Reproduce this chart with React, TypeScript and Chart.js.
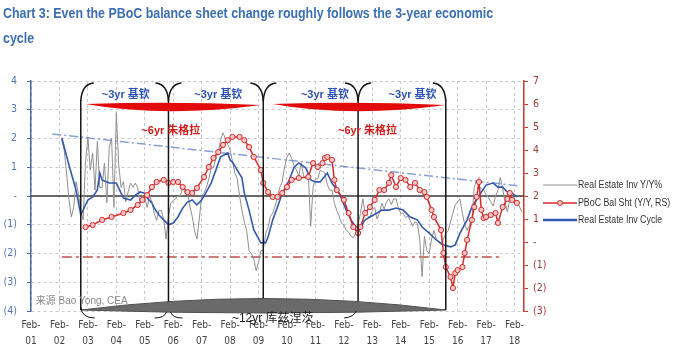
import React, { useEffect, useRef } from 'react';
import { Chart, registerables } from 'chart.js';

Chart.register(...registerables);

// ---------------- data ----------------
const titleLine1 = 'Chart 3: Even the PBoC balance sheet change roughly follows the 3-year economic';
const titleLine2 = 'cycle';

const xTickLabels = ['Feb-01', 'Feb-02', 'Feb-03', 'Feb-04', 'Feb-05', 'Feb-06', 'Feb-07', 'Feb-08', 'Feb-09',
  'Feb-10', 'Feb-11', 'Feb-12', 'Feb-13', 'Feb-14', 'Feb-15', 'Feb-16', 'Feb-17', 'Feb-18'];
const xStart = '2001-02';
const xEnd = '2018-06';

const leftTicks = [4, 3, 2, 1, 0, -1, -2, -3, -4];
const rightTicks = [7, 6, 5, 4, 3, 2, 1, 0, -1, -2, -3];

const seriesNames = ['Real Estate Inv Y/Y%', 'PBoC Bal Sht (Y/Y, RS)', 'Real Estate Inv Cycle'];

// Real Estate Inv Y/Y% (monthly, left axis) starting Mar 2002
const grayStart = '2002-03';
const grayValues = [
  1.95, 1.6, 0.8, -0.1, -0.73, -0.4, 0.5, 0.1, -0.5, -0.83,
  1.2, 2.05, 0.9, 1.5, 0.2, 1.9, 0.3, 0.3, 1.15, -0.24, 1.7, 2.0,
  -0.4, 2.9, 1.1, 0.3, 0.5, -0.2, 0.15, 0.45, 0.3, 0.45, 0.3, -0.25,
  0.0, -0.05, -0.4, 0.0, -0.2, -0.6, -0.85, -0.5, -0.5, -0.85, -1.5, -0.7,
  -0.25, -0.15, -0.1, 0.0, 0.0, 0.3, 0.1, 0.1, -0.35, -0.7, -1.2, -1.5,
  -0.8, 0.0, 0.1, 0.3, 0.6, 0.95, 1.0, 1.3, 1.5, 1.95, 2.2, 2.0,
  1.8, 1.6, 1.2, 0.8, 0.6, 0.0, -0.5, -0.9, -1.2, -1.9, -2.0, -2.2,
  -2.6, -2.3, -1.9, -1.9, -1.3, -1.1, -0.7, -0.6, -0.35, 0.0, 0.3, 0.5,
  1.0, 1.35, 1.5, 1.3, 1.05, 0.9, 0.7, 1.15, 0.7, 0.6, 0.75, -1.05,
  0.3, 0.6, 0.6, 0.9, 0.85, 0.8, 0.4, 0.2, 0.2, -0.25, -0.5, -0.7,
  -0.95, -1.0, -1.2, -1.25, -1.4, -1.45, -1.3, -1.0, -0.6, -0.1, -0.6, -0.7,
  -0.75, -0.5, -0.4, -0.8, -0.6, -0.25, -0.45, -0.2, -0.1, -0.3, -0.1, -0.1,
  -0.4, -0.6, -0.6, -0.75, -0.7, -0.85, -1.05, -0.9, -0.95, -1.5, -2.8, -1.4,
  -1.9, -2.0, -1.5, -1.2, -1.5, -1.6, -1.7, -1.5, -1.3, -1.2, -0.9, -0.6,
  -0.3, -0.2, -0.1, -0.6, -1.0, -1.2, -1.0, -0.8, 0.3, 0.55, 0.35, 0.25,
  0.2, 0.05, -0.05, -0.2, -0.35, 0.0, 0.2, 0.65, 0.25, -0.2, -0.55, -0.15,
  0.0, -0.1, -0.2, -0.35, -0.55,
];

// PBoC balance sheet Y/Y (right axis)
const redDates = [
  '2003-01', '2003-04', '2003-08', '2003-12', '2004-05', '2004-08', '2004-11', '2005-01', '2005-03', '2005-05',
  '2005-07', '2005-10', '2005-12', '2006-02', '2006-04', '2006-06', '2006-08', '2006-10', '2006-12', '2007-03',
  '2007-05', '2007-07', '2007-09', '2007-11', '2008-01', '2008-03', '2008-06', '2008-08', '2008-10', '2008-12',
  '2009-03', '2009-04', '2009-06', '2009-08', '2009-10', '2009-12', '2010-02', '2010-04', '2010-07', '2010-11',
  '2011-01', '2011-03', '2011-05', '2011-06', '2011-07', '2011-09', '2011-10', '2011-11', '2012-02', '2012-04',
  '2012-06', '2012-08', '2012-09', '2012-11', '2013-01', '2013-03', '2013-05', '2013-07', '2013-09', '2013-10',
  '2013-12', '2014-02', '2014-04', '2014-06', '2014-08', '2014-10', '2014-12', '2015-01', '2015-03', '2015-04',
  '2015-07', '2015-08', '2015-09', '2015-11', '2015-12', '2016-01', '2016-02', '2016-04', '2016-05', '2016-06',
  '2016-08', '2016-09', '2016-10', '2016-11', '2016-12', '2017-01', '2017-02', '2017-04', '2017-06', '2017-07',
  '2017-09', '2017-11', '2017-12', '2018-01', '2018-03',
];
const redValues = [
  0.65, 0.74, 0.96, 1.09, 1.26, 1.39, 1.61, 1.83, 2.04, 2.39,
  2.61, 2.7, 2.57, 2.61, 2.61, 2.39, 2.17, 2.13, 2.35, 2.83,
  3.26, 3.65, 3.91, 4.22, 4.43, 4.57, 4.57, 4.43, 4.13, 3.7,
  3.13, 2.57, 2.17, 1.96, 1.96, 2.13, 2.39, 2.7, 2.78, 2.83,
  3.43, 3.26, 3.43, 3.65, 3.7, 3.57, 2.7, 2.26, 1.83, 1.26,
  0.65, 0.39, 0.65, 1.26, 1.52, 1.83, 2.26, 2.26, 2.57, 2.91,
  2.39, 2.78, 2.7, 2.39, 2.57, 2.26, 2.17, 1.96, 1.39, 1.09,
  0.52, -0.48, -1.09, -1.52, -2.0, -1.35, -1.22, -1.09, -0.48, 0.09,
  0.96, 1.52, 1.96, 2.61, 1.4, 1.04, 1.09, 1.17, 1.26, 0.83,
  1.52, 1.87, 2.13, 1.83, 1.7,
];

// Real Estate Inv Cycle (left axis)
const blueDates = [
  '2002-03', '2002-06', '2002-09', '2002-11', '2003-02', '2003-04', '2003-06', '2003-07', '2003-08', '2003-11',
  '2004-01', '2004-02', '2004-04', '2004-05', '2004-08', '2004-10', '2004-12', '2005-02', '2005-03', '2005-05',
  '2005-06', '2005-08', '2005-10', '2005-12', '2006-02', '2006-04', '2006-06', '2006-08', '2006-10', '2006-12',
  '2007-02', '2007-04', '2007-06', '2007-08', '2007-10', '2008-01', '2008-02', '2008-03', '2008-05', '2008-07',
  '2008-08', '2008-10', '2008-12', '2009-03', '2009-05', '2009-06', '2009-08', '2009-10', '2009-12', '2010-03',
  '2010-05', '2010-07', '2010-10', '2010-12', '2011-02', '2011-04', '2011-07', '2011-09', '2011-12', '2012-03',
  '2012-05', '2012-07', '2012-09', '2012-11', '2013-01', '2013-04', '2013-06', '2013-09', '2013-12', '2014-03',
  '2014-06', '2014-09', '2014-11', '2015-02', '2015-05', '2015-08', '2015-11', '2016-01', '2016-03', '2016-06',
  '2016-08', '2016-10', '2016-12', '2017-02', '2017-05', '2017-07', '2017-09', '2017-11', '2018-01', '2018-03',
];
const blueValues = [
  2.02, 1.08, 0.21, -0.66, -0.14, -0.03, 0.21, 0.8, 0.56, 0.45,
  0.45, 0.45, 0.1, -0.07, -0.14, 0.03, 0.14, 0.1, -0.07, -0.24,
  -0.42, -0.66, -0.83, -1.0, -0.94, -0.73, -0.42, -0.21, -0.14, -0.31,
  -0.14, 0.14, 0.45, 0.9, 1.36, 1.5, 1.25, 1.18, 0.9, 0.63,
  0.1, -0.49, -1.18, -1.63, -1.63, -1.43, -0.83, -0.38, 0.1, 0.56,
  1.0, 1.15, 0.97, 0.56, 0.49, 0.49, 0.8, 0.45, 0.1, -0.49,
  -0.83, -1.08, -1.08, -0.83, -0.73, -0.59, -0.49, -0.49, -0.42, -0.49,
  -0.73, -0.83, -1.08, -1.29, -1.53, -1.7, -1.77, -1.7, -1.29, -0.83,
  -0.38, -0.14, 0.14, 0.38, 0.45, 0.31, 0.31, 0.14, 0.1, -0.03,
];

// dash-dot guide lines
const trendDates = ['2001-11', '2018-04'];
const trendValues = [2.16, 0.35];
const floorDates = ['2002-03', '2017-09'];
const floorValues = [-0.65, -0.65];

// annotation anchors
const bracketEdges = ['2002-11', '2005-12', '2009-04', '2012-08', '2015-09'];
const kitchinCenters = ['2004-06', '2007-09', '2011-06', '2014-07'];
const kitchinLabel = '~3yr 基钦';
const juglarSpans = [['2003-01', '2009-03'], ['2009-08', '2015-09']];
const juglarCenters = ['2006-01', '2012-12'];
const juglarLabel = '~6yr 朱格拉';
const kuznetsSpan = ['2002-11', '2015-09'];
const kuznetsCenter = '2009-08';
const kuznetsLabel = '~12yr 库兹涅茨';
const sourceAnchor = '2001-04';
const sourceLabel = '来源 Bao Yong, CEA';

// ---------------- helpers ----------------
const toYear = (d: string) => {
  const [y, m] = d.split('-').map(Number);
  return y + (m - 1) / 12;
};
const tickYear = (label: string) => 2000 + Number(label.split('-')[1]) + 1 / 12;
const fmt = (v: number) => (v > 0 ? String(v) : v === 0 ? '-' : `(${-v})`);
const pts = (dates: string[], vals: number[]) => dates.map((d, i) => ({ x: toYear(d), y: vals[i] }));
const grayPts = () => {
  const s = toYear(grayStart);
  return grayValues.map((v, i) => ({ x: s + i / 12, y: v }));
};

const NARROW = '"Liberation Sans Narrow", "Arial Narrow", "DejaVu Sans Condensed", "Liberation Sans", sans-serif';
const SANS = '"Liberation Sans", Arial, sans-serif';
const CJK = '"Liberation Sans", "Noto Sans CJK SC", sans-serif';

const GRAY = '#8f8f8f';
const RED = '#d42a2a';
const BLUE = '#3558b0';

const decorPlugin = {
  id: 'decor',
  beforeDatasetsDraw(chart: any) {
    const { ctx, chartArea, scales } = chart;
    const y0 = scales.y.getPixelForValue(0);
    ctx.save();
    ctx.strokeStyle = '#3a3a3a';
    ctx.lineWidth = 1.6;
    ctx.beginPath();
    ctx.moveTo(chartArea.left, y0);
    ctx.lineTo(chartArea.right, y0);
    ctx.stroke();
    ctx.restore();
  },
  afterDatasetsDraw(chart: any) {
    const { ctx, chartArea, scales } = chart;
    const xs = scales.x;
    const top = chartArea.top;
    const bottom = chartArea.bottom;
    const X = (d: string) => xs.getPixelForValue(toYear(d));

    // gray lens (Kuznets)
    const kx0 = X(kuznetsSpan[0]);
    const kx1 = X(kuznetsSpan[1]);
    const kmid = (kx0 + kx1) / 2;
    const lensTop = (x: number) => {
      const t = (x - kx0) / (kx1 - kx0);
      return bottom - 1 - 2 * t * (1 - t) * 23;
    };
    ctx.save();
    ctx.fillStyle = '#6a6a6a';
    ctx.strokeStyle = '#505050';
    ctx.lineWidth = 1;
    ctx.beginPath();
    ctx.moveTo(kx0, bottom - 1);
    ctx.quadraticCurveTo(kmid, bottom - 24, kx1, bottom - 1);
    ctx.quadraticCurveTo(kmid, bottom + 5, kx0, bottom - 1);
    ctx.closePath();
    ctx.fill();
    ctx.stroke();
    ctx.restore();

    // brackets
    ctx.save();
    ctx.strokeStyle = '#151515';
    ctx.lineWidth = 1.5;
    bracketEdges.forEach((d, i) => {
      const x = X(d);
      ctx.beginPath();
      ctx.moveTo(x, top + 19);
      ctx.lineTo(x, lensTop(x));
      ctx.stroke();
      if (i < bracketEdges.length - 1) {
        ctx.beginPath();
        ctx.moveTo(x, top + 20);
        ctx.quadraticCurveTo(x + 1, top + 3, x + 13, top + 2);
        ctx.stroke();
      }
      if (i > 0) {
        ctx.beginPath();
        ctx.moveTo(x, top + 20);
        ctx.quadraticCurveTo(x - 1, top + 3, x - 13, top + 2);
        ctx.stroke();
      }
    });
    // bottom arcs
    ctx.lineWidth = 1;
    const bArc = (x0: number, y0: number, cx: number, cy: number, x1: number, y1: number) => {
      ctx.beginPath();
      ctx.moveTo(x0, y0);
      ctx.quadraticCurveTo(cx, cy, x1, y1);
      ctx.stroke();
    };
    const b0 = X(bracketEdges[0]);
    const b1 = X(bracketEdges[1]);
    const b3 = X(bracketEdges[3]);
    bArc(b0, bottom - 4, b0 + 1, bottom + 7, b0 + 14, bottom + 7);
    bArc(b1 - 2, bottom + 1, b1 - 4, bottom + 7, b1 - 14, bottom + 7);
    bArc(b1 + 2, bottom + 1, b1 + 4, bottom + 7, b1 + 14, bottom + 7);
    bArc(b3 - 2, bottom, b3 - 4, bottom + 6, b3 - 14, bottom + 7);
    ctx.restore();

    // red lenses (Juglar)
    ctx.save();
    ctx.fillStyle = '#e20a0a';
    juglarSpans.forEach(([a, b]) => {
      const x0 = X(a);
      const x1 = X(b);
      ctx.beginPath();
      ctx.moveTo(x0, top + 23);
      ctx.quadraticCurveTo((x0 + x1) / 2, top + 20, x1, top + 24);
      ctx.quadraticCurveTo(x0 + 0.45 * (x1 - x0), top + 37, x0, top + 23);
      ctx.closePath();
      ctx.fill();
    });
    ctx.restore();

    // texts
    ctx.save();
    ctx.textAlign = 'center';
    ctx.textBaseline = 'middle';
    ctx.fillStyle = '#2b50b8';
    ctx.font = `bold 11px ${CJK}`;
    kitchinCenters.forEach((d) => ctx.fillText(kitchinLabel, X(d), top + 14));
    ctx.fillStyle = '#d41c1c';
    juglarCenters.forEach((d) => ctx.fillText(juglarLabel, X(d), top + 50));
    ctx.fillStyle = '#222';
    ctx.font = `12px ${CJK}`;
    ctx.fillText(kuznetsLabel, X(kuznetsCenter), bottom + 8);
    ctx.textAlign = 'left';
    ctx.fillStyle = '#8a8a8a';
    ctx.font = `10px ${CJK}`;
    ctx.fillText(sourceLabel, X(sourceAnchor), bottom - 10);
    ctx.restore();
  },
  afterDraw(chart: any) {
    const { ctx } = chart;
    const rows = [
      { y: 185, color: GRAY, w: 1, marker: false },
      { y: 203, color: RED, w: 1.5, marker: true },
      { y: 220, color: BLUE, w: 2.5, marker: false },
    ];
    ctx.save();
    rows.forEach((row, i) => {
      ctx.strokeStyle = row.color;
      ctx.lineWidth = row.w;
      ctx.beginPath();
      ctx.moveTo(543, row.y);
      ctx.lineTo(577, row.y);
      ctx.stroke();
      if (row.marker) {
        ctx.fillStyle = '#f7c8c8';
        ctx.lineWidth = 1;
        ctx.beginPath();
        ctx.arc(560, row.y, 2.5, 0, Math.PI * 2);
        ctx.fill();
        ctx.stroke();
      }
      ctx.save();
      ctx.translate(578, row.y);
      ctx.scale(0.8, 1);
      ctx.fillStyle = '#333';
      ctx.font = `11px ${SANS}`;
      ctx.textBaseline = 'middle';
      ctx.textAlign = 'left';
      ctx.fillText(seriesNames[i], 0, 0);
      ctx.restore();
    });
    ctx.restore();
  },
};

export default function App() {
  const ref = useRef<HTMLCanvasElement | null>(null);

  useEffect(() => {
    if (!ref.current) return;
    const chart = new Chart(ref.current, {
      type: 'line',
      data: {
        datasets: [
          {
            label: seriesNames[1],
            data: pts(redDates, redValues),
            yAxisID: 'y1',
            borderColor: RED,
            borderWidth: 1.5,
            pointRadius: 2.6,
            pointBorderWidth: 1,
            pointBorderColor: RED,
            pointBackgroundColor: '#f7c8c8',
            order: 1,
          },
          {
            label: seriesNames[2],
            data: pts(blueDates, blueValues),
            yAxisID: 'y',
            borderColor: BLUE,
            borderWidth: 1.6,
            pointRadius: 0,
            order: 2,
          },
          {
            label: seriesNames[0],
            data: grayPts(),
            yAxisID: 'y',
            borderColor: GRAY,
            borderWidth: 1,
            pointRadius: 0,
            order: 3,
          },
          {
            label: 'trend',
            data: pts(trendDates, trendValues),
            yAxisID: 'y',
            borderColor: '#86a0d8',
            borderWidth: 1.5,
            borderDash: [9, 3, 2, 3],
            pointRadius: 0,
            order: 4,
          },
          {
            label: 'floor',
            data: pts(floorDates, floorValues),
            yAxisID: 'y1',
            borderColor: '#c0504d',
            borderWidth: 1.5,
            borderDash: [10, 4, 3, 4],
            pointRadius: 0,
            order: 5,
          },
        ],
      },
      options: {
        animation: false,
        responsive: false,
        maintainAspectRatio: false,
        devicePixelRatio: 1,
        layout: { padding: { top: 81, left: 0, right: 0, bottom: 0 } },
        plugins: { legend: { display: false }, tooltip: { enabled: false } },
        elements: { line: { tension: 0 } },
        scales: {
          x: {
            type: 'linear',
            min: toYear(xStart),
            max: toYear(xEnd),
            afterBuildTicks: (scale: any) => {
              scale.ticks = xTickLabels.map((l) => ({ value: tickYear(l) }));
            },
            afterFit: (scale: any) => {
              scale.height = 40;
            },
            ticks: {
              autoSkip: false,
              maxRotation: 0,
              color: '#444',
              padding: 6,
              font: { family: NARROW, size: 10, lineHeight: 1.6 },
              callback: (v: any) => {
                const l = xTickLabels.find((t) => Math.abs(tickYear(t) - v) < 0.01) || '';
                const [a, b] = l.split('-');
                return [a + '-', b];
              },
            },
            grid: { color: '#cacaca', lineWidth: 1, drawTicks: false },
            border: { display: false, dash: [3, 3] },
          },
          y: {
            position: 'left',
            min: -4,
            max: 4,
            afterBuildTicks: (scale: any) => {
              scale.ticks = leftTicks.map((v) => ({ value: v }));
            },
            afterFit: (scale: any) => {
              scale.width = 31;
            },
            ticks: {
              color: '#5573b0',
              padding: 10,
              font: { family: NARROW, size: 10.5 },
              callback: (v: any) => fmt(Number(v)),
            },
            grid: {
              color: (c: any) => (c.tick && c.tick.value === 0 ? 'rgba(0,0,0,0)' : '#cacaca'),
              lineWidth: 1,
              tickLength: 4,
              tickColor: '#4a6aa8',
              tickBorderDash: [],
            },
            border: { display: true, color: '#4a6aa8', width: 1.5, dash: [3, 3] },
          },
          y1: {
            position: 'right',
            min: -3,
            max: 7,
            afterBuildTicks: (scale: any) => {
              scale.ticks = rightTicks.map((v) => ({ value: v }));
            },
            afterFit: (scale: any) => {
              scale.width = 149;
            },
            ticks: {
              color: '#a03a3a',
              padding: 5,
              font: { family: NARROW, size: 10.5 },
              callback: (v: any) => fmt(Number(v)),
            },
            grid: {
              drawOnChartArea: false,
              tickLength: 4,
              tickColor: '#c0392b',
              tickBorderDash: [],
            },
            border: { display: true, color: '#c0392b', width: 1.5 },
          },
        },
      },
      plugins: [decorPlugin],
    } as any);
    return () => chart.destroy();
  }, []);

  return (
    <div style={{ position: 'fixed', left: 0, top: 0, width: 673, height: 351, background: '#fff', overflow: 'hidden' }}>
      <canvas ref={ref} width={673} height={351} style={{ display: 'block', position: 'absolute', left: 0, top: 0 }} />
      <div
        style={{
          position: 'absolute',
          left: 3,
          top: 0,
          font: `bold 15px ${SANS}`,
          lineHeight: '25px',
          color: '#3c6eb4',
          whiteSpace: 'nowrap',
          transform: 'scaleX(0.827)',
          transformOrigin: 'left top',
        }}
      >
        {titleLine1}
        <br />
        {titleLine2}
      </div>
    </div>
  );
}
